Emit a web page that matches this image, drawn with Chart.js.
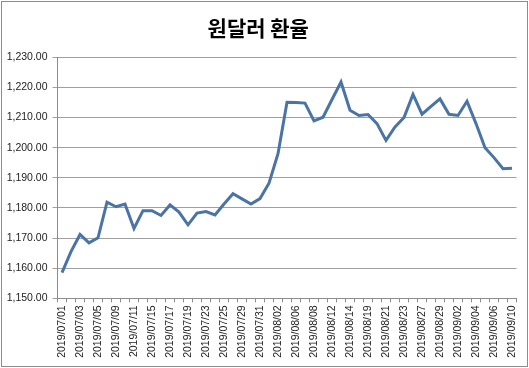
<!DOCTYPE html>
<html>
<head>
<meta charset="utf-8">
<script src="https://cdn.jsdelivr.net/npm/chart.js@4"></script>
<style>
html,body{margin:0;padding:0;background:#fff;}
#wrap{width:529px;height:368px;position:relative;}
</style>
</head>
<body>
<div id="wrap"><canvas id="c" width="529" height="368"></canvas></div>
<script>
const chartTitle = '원달러 환율';
const dates = [
  '2019/07/01','2019/07/02','2019/07/03','2019/07/04','2019/07/05','2019/07/08','2019/07/09','2019/07/10',
  '2019/07/11','2019/07/12','2019/07/15','2019/07/16','2019/07/17','2019/07/18','2019/07/19','2019/07/22',
  '2019/07/23','2019/07/24','2019/07/25','2019/07/26','2019/07/29','2019/07/30','2019/07/31',
  '2019/08/01','2019/08/02','2019/08/05','2019/08/06','2019/08/07','2019/08/08','2019/08/09','2019/08/12',
  '2019/08/13','2019/08/14','2019/08/16','2019/08/19','2019/08/20','2019/08/21','2019/08/22','2019/08/23',
  '2019/08/26','2019/08/27','2019/08/28','2019/08/29','2019/08/30',
  '2019/09/02','2019/09/03','2019/09/04','2019/09/05','2019/09/06','2019/09/09','2019/09/10'
];
const rates = [
  1158.5,1165.5,1171.2,1168.4,1170.1,1181.9,1180.4,1181.3,
  1173.2,1179.1,1179.1,1177.5,1181.0,1178.6,1174.4,1178.3,
  1178.8,1177.7,1181.3,1184.7,1183.0,1181.3,1183.1,
  1188.2,1198.0,1215.1,1215.0,1214.8,1208.9,1210.1,1216.0,
  1221.8,1212.4,1210.7,1211.0,1208.0,1202.4,1206.9,1210.0,
  1217.7,1211.1,1213.7,1216.2,1211.1,
  1210.7,1215.4,1208.0,1200.0,1196.7,1193.0,1193.2
];
const yTickValues = [1150,1160,1170,1180,1190,1200,1210,1220,1230];

const frame = {
  id:'frame',
  beforeDraw(chart){
    const c = chart.ctx;
    c.save();
    c.fillStyle='#fff';
    c.fillRect(0,0,chart.width,chart.height);
    c.restore();
  },
  afterDraw(chart){
    const c = chart.ctx;
    c.save();
    c.strokeStyle='#8c8c8c';
    c.lineWidth=1;
    c.strokeRect(1.5,1.5,chart.width-3,chart.height-3);
    c.restore();
  }
};

new Chart(document.getElementById('c'), {
  type:'line',
  data:{
    labels: dates,
    datasets:[{
      data: rates,
      borderColor:'#4a74a6',
      borderWidth:3,
      pointRadius:0,
      tension:0,
      fill:false
    }]
  },
  options:{
    responsive:false,
    animation:false,
    devicePixelRatio:1,
    layout:{padding:{left:0,right:12.5,top:0,bottom:0}},
    plugins:{
      legend:{display:false},
      tooltip:{enabled:false},
      title:{
        display:true,
        text: chartTitle,
        color:'#000',
        font:{family:'"Noto Sans CJK KR", sans-serif', size:21, weight:'bold', lineHeight:1.2},
        padding:{top:15.4,bottom:16.7}
      }
    },
    scales:{
      x:{
        type:'category',
        offset:true,
        grid:{display:true, offset:true, drawOnChartArea:false, drawTicks:true, tickLength:4, color:'#8c8c8c'},
        border:{display:true,color:'#8c8c8c',width:1},
        ticks:{
          autoSkip:false, minRotation:90, maxRotation:90, padding:3,
          color:'#222',
          font:{family:'"Liberation Sans", Arial, sans-serif', size:10.5},
          callback:function(v,i){ return i%2===0 ? this.getLabelForValue(v) : ''; }
        },
        afterFit(s){ s.height = 69.7; }
      },
      y:{
        min:1150, max:1230,
        afterBuildTicks(s){ s.ticks = yTickValues.map(v=>({value:v})); },
        grid:{color:'#a0a0a0', lineWidth:1, drawTicks:true, tickLength:5},
        border:{display:true,color:'#8c8c8c',width:1},
        ticks:{
          padding:5, color:'#222',
          font:{family:'"Liberation Sans", Arial, sans-serif', size:10.5},
          callback:(v)=>Number(v).toLocaleString('en-US',{minimumFractionDigits:2,maximumFractionDigits:2})
        },
        afterFit(s){ s.width = 57.5; }
      }
    }
  },
  plugins:[frame]
});
</script>
</body>
</html>
